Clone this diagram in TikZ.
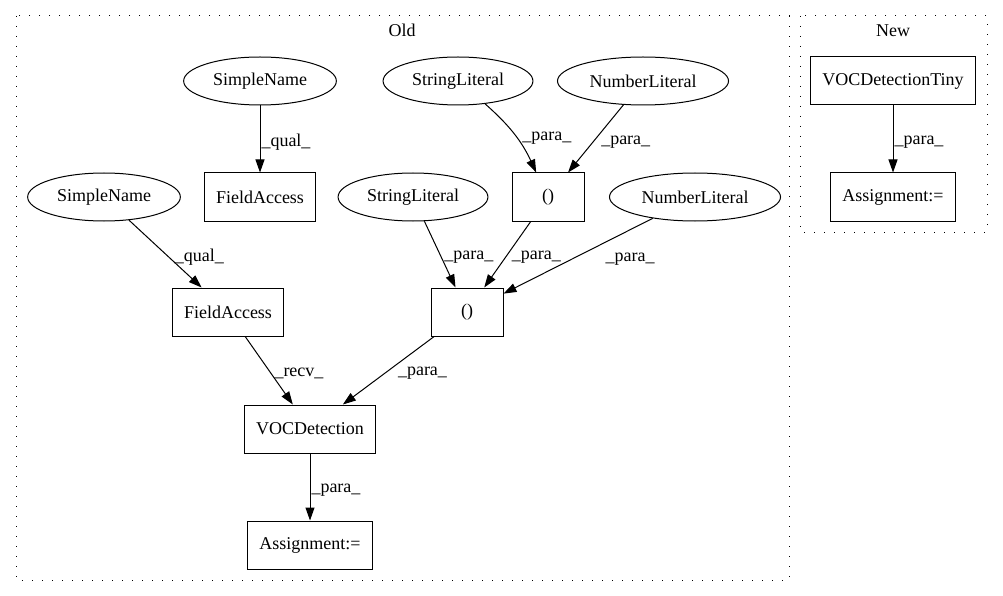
\documentclass[tikz,border=0pt]{standalone}
\usepackage{fontspec}
\setmainfont{Liberation Serif}
\usetikzlibrary{arrows.meta,shapes.geometric}

\begin{document}
\begin{tikzpicture}[x = 1pt, y = -1pt, line width = 1pt,
                    every node/.style = {font = \fontsize{18}{21}\selectfont},
                    ell/.style = {ellipse, draw, inner xsep = 7pt, inner ysep = 2pt, minimum height = 48pt},
                    box/.style = {rectangle, draw, inner xsep = 11.5pt, minimum width = 72pt, minimum height = 48pt},
                    arr/.style = {-{Triangle[length = 13pt, width = 9pt]}},
                    lbl/.style = {inner sep = 1pt, anchor = west, yshift = -3pt},
                    cluster/.style = {dash pattern = on 1.4pt off 8.6pt}]
  \useasboundingbox (0, 0) rectangle (1003, 596);

  % clusters
  \draw [cluster] (16, 16) rectangle (789, 580);
  \draw [cluster] (800, 16) rectangle (987, 232);
  \node (old) at (402, 30) {Old};
  \node (new) at (893, 31) {New};

  % old
  \node [ell] (SN1) at (260, 81) {SimpleName};
  \node [ell] (SL1) at (458, 81) {StringLiteral};
  \node [ell] (NL1) at (643, 81) {NumberLiteral};
  \node [box] (FA1) at (260, 197) {FieldAccess};
  \node [box] (B1) at (548, 197) {()};
  \node [ell] (SN2) at (104, 197) {SimpleName};
  \node [ell] (SL2) at (413, 197) {StringLiteral};
  \node [ell] (NL2) at (695, 197) {NumberLiteral};
  \node [box] (FA2) at (228, 312) {FieldAccess};
  \node [box] (B2) at (467, 312) {()};
  \node [box] (VOC) at (310, 429) {VOCDetection};
  \node [box] (AS1) at (310, 545) {Assignment:=};

  % new
  \node [box] (VOCT) at (893, 81) {VOCDetectionTiny};
  \node [box] (AS2) at (893, 197) {Assignment:=};

  \draw (SN1) edge [arr] node [lbl] {\_qual\_} (FA1);
  \draw (SL1) edge [arr, bend left=12] node [lbl, xshift=6pt] {\_para\_} (B1);
  \draw (NL1) edge [arr] node [lbl, xshift=4pt] {\_para\_} (B1);
  \draw (SN2) edge [arr] node [lbl, xshift=8pt] {\_qual\_} (FA2);
  \draw (SL2) edge [arr] node [lbl, xshift=3pt] {\_para\_} (B2);
  \draw (B1) edge [arr] node [lbl, xshift=3pt] {\_para\_} (B2);
  \draw (NL2) edge [arr] node [lbl, xshift=26pt] {\_para\_} (B2);
  \draw (FA2) edge [arr] node [lbl, xshift=4pt] {\_recv\_} (VOC);
  \draw (B2) edge [arr] node [lbl, xshift=8pt] {\_para\_} (VOC);
  \draw (VOC) edge [arr] node [lbl] {\_para\_} (AS1);
  \draw (VOCT) edge [arr] node [lbl] {\_para\_} (AS2);
\end{tikzpicture}
\end{document}
